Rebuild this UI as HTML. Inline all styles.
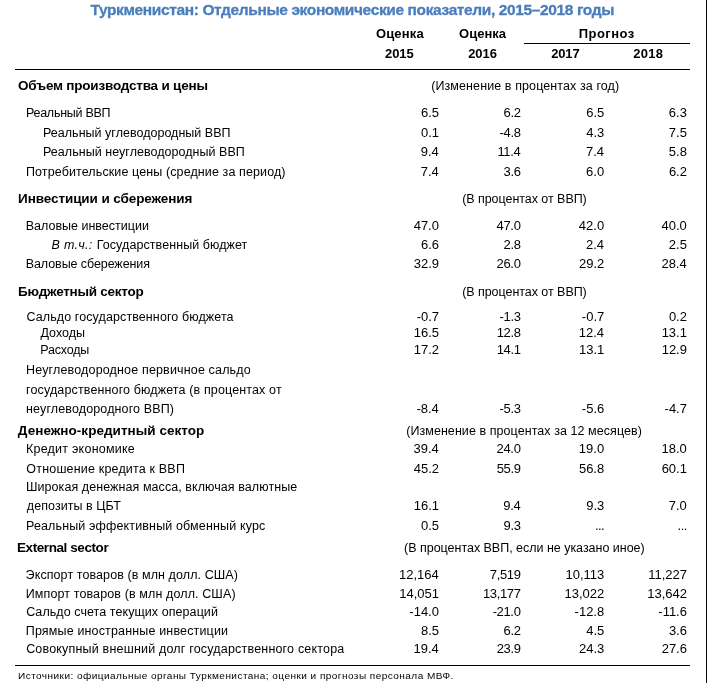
<!DOCTYPE html>
<html lang="ru"><head><meta charset="utf-8"><title>Туркменистан: Отдельные экономические показатели</title>
<style>
html,body{margin:0;padding:0;background:#fff;}
body{width:709px;height:683px;position:relative;overflow:hidden;font-family:"Liberation Sans",sans-serif;font-size:13px;color:#000;}
.t{position:absolute;white-space:nowrap;line-height:20px;height:20px;}
.b{font-weight:bold;}
.n{text-align:right;width:90px;}
.ln{position:absolute;background:#000;}
#wrap{position:absolute;left:0;top:0;width:709px;height:683px;will-change:transform;}
</style></head><body>
<div id="wrap">
<div class="ln" style="left:524px;top:43px;width:166px;height:1px;"></div>
<div class="ln" style="left:15px;top:69px;width:675px;height:1px;"></div>
<div class="ln" style="left:706px;top:0;width:1px;height:683px;"></div>
<div class="ln" style="left:15px;top:665px;width:675px;height:1px;"></div>
<div class="t b" style="left:90.49px;top:0.0px;font-size:15.5px;letter-spacing:-0.376px;color:#4a7dbc;-webkit-text-stroke:0.3px #4a7dbc;">Туркменистан: Отдельные экономические показатели, 2015–2018 годы</div>
<div class="t b" style="left:375.92px;top:23.5px;font-size:13px;letter-spacing:0.181px;">Оценка</div>
<div class="t b" style="left:459.12px;top:23.5px;font-size:13px;letter-spacing:-0.019px;">Оценка</div>
<div class="t b" style="left:578.70px;top:23.5px;font-size:13px;letter-spacing:0.483px;">Прогноз</div>
<div class="t b" style="left:384.94px;top:44.0px;font-size:13px;letter-spacing:-0.027px;">2015</div>
<div class="t b" style="left:468.14px;top:44.0px;font-size:13px;letter-spacing:0.005px;">2016</div>
<div class="t b" style="left:551.14px;top:44.0px;font-size:13px;letter-spacing:-0.112px;">2017</div>
<div class="t b" style="left:633.34px;top:44.0px;font-size:13px;letter-spacing:0.248px;">2018</div>
<div class="t b" style="left:18.00px;top:76.0px;font-size:13.5px;letter-spacing:-0.205px;">Объем производства и цены</div>
<div class="t" style="left:431.17px;top:76.0px;font-size:12.5px;letter-spacing:0.100px;">(Изменение в процентах за год)</div>
<div class="t b" style="left:18.10px;top:188.5px;font-size:13.5px;letter-spacing:-0.097px;">Инвестиции и сбережения</div>
<div class="t" style="left:462.17px;top:188.5px;font-size:12.5px;letter-spacing:-0.045px;">(В процентах от ВВП)</div>
<div class="t b" style="left:18.10px;top:282.0px;font-size:13.5px;letter-spacing:-0.246px;">Бюджетный сектор</div>
<div class="t" style="left:462.17px;top:282.0px;font-size:12.5px;letter-spacing:-0.045px;">(В процентах от ВВП)</div>
<div class="t b" style="left:17.85px;top:420.5px;font-size:13.5px;letter-spacing:0.032px;">Денежно-кредитный сектор</div>
<div class="t" style="left:406.17px;top:420.5px;font-size:12.5px;letter-spacing:0.065px;">(Изменение в процентах за 12 месяцев)</div>
<div class="t b" style="left:17.00px;top:538.0px;font-size:13.5px;letter-spacing:-0.421px;">External sector</div>
<div class="t" style="left:404.07px;top:538.0px;font-size:12.5px;letter-spacing:-0.022px;">(В процентах ВВП, если не указано иное)</div>
<div class="t" style="left:25.96px;top:103.0px;font-size:12.5px;letter-spacing:-0.259px;">Реальный ВВП</div>
<div class="t" style="left:43.06px;top:123.0px;font-size:12.5px;letter-spacing:0.021px;">Реальный углеводородный ВВП</div>
<div class="t" style="left:43.06px;top:142.0px;font-size:12.5px;letter-spacing:0.039px;">Реальный неуглеводородный ВВП</div>
<div class="t" style="left:25.98px;top:162.0px;font-size:12.5px;letter-spacing:0.110px;">Потребительские цены (средние за период)</div>
<div class="t" style="left:25.76px;top:216.0px;font-size:12.5px;letter-spacing:-0.001px;">Валовые инвестиции</div>
<div class="t" style="left:51.50px;top:235.0px;font-size:12.5px;letter-spacing:0.289px;"><i>В т.ч.:</i></div>
<div class="t" style="left:96.76px;top:235.0px;font-size:12.5px;letter-spacing:0.075px;">Государственный бюджет</div>
<div class="t" style="left:25.76px;top:254.0px;font-size:12.5px;letter-spacing:-0.085px;">Валовые сбережения</div>
<div class="t" style="left:26.43px;top:307.0px;font-size:12.5px;letter-spacing:0.103px;">Сальдо государственного бюджета</div>
<div class="t" style="left:40.49px;top:323.0px;font-size:12.5px;letter-spacing:0.020px;">Доходы</div>
<div class="t" style="left:40.36px;top:340.0px;font-size:12.5px;letter-spacing:-0.206px;">Расходы</div>
<div class="t" style="left:26.06px;top:360.0px;font-size:12.5px;letter-spacing:0.157px;">Неуглеводородное первичное сальдо</div>
<div class="t" style="left:26.09px;top:380.0px;font-size:12.5px;letter-spacing:0.133px;">государственного бюджета (в процентах от</div>
<div class="t" style="left:26.10px;top:399.0px;font-size:12.5px;letter-spacing:0.126px;">неуглеводородного ВВП)</div>
<div class="t" style="left:25.96px;top:439.0px;font-size:12.5px;letter-spacing:0.237px;">Кредит экономике</div>
<div class="t" style="left:26.36px;top:459.0px;font-size:12.5px;letter-spacing:0.179px;">Отношение кредита к ВВП</div>
<div class="t" style="left:25.96px;top:477.0px;font-size:12.5px;letter-spacing:0.072px;">Широкая денежная масса, включая валютные</div>
<div class="t" style="left:26.85px;top:496.0px;font-size:12.5px;letter-spacing:0.057px;">депозиты в ЦБТ</div>
<div class="t" style="left:25.96px;top:516.0px;font-size:12.5px;letter-spacing:0.143px;">Реальный эффективный обменный курс</div>
<div class="t" style="left:25.62px;top:565.0px;font-size:12.5px;letter-spacing:0.088px;">Экспорт товаров (в млн долл. США)</div>
<div class="t" style="left:25.76px;top:584.0px;font-size:12.5px;letter-spacing:0.116px;">Импорт товаров (в млн долл. США)</div>
<div class="t" style="left:26.13px;top:602.0px;font-size:12.5px;letter-spacing:0.067px;">Сальдо счета текущих операций</div>
<div class="t" style="left:25.78px;top:621.0px;font-size:12.5px;letter-spacing:0.154px;">Прямые иностранные инвестиции</div>
<div class="t" style="left:26.13px;top:639.0px;font-size:12.5px;letter-spacing:0.190px;">Совокупный внешний долг государственного сектора</div>
<div class="t" style="left:17.70px;top:666.0px;font-size:9.3px;letter-spacing:0.412px;transform:scaleX(1.08);transform-origin:0 50%;">Источники: официальные органы Туркменистана; оценки и прогнозы персонала МВФ.</div>
<div class="t n" style="left:349.05px;top:103.0px;">6.5</div>
<div class="t n" style="left:430.64px;top:103.0px;letter-spacing:-0.35px;">6.2</div>
<div class="t n" style="left:514.25px;top:103.0px;">6.5</div>
<div class="t n" style="left:596.95px;top:103.0px;">6.3</div>
<div class="t n" style="left:349.06px;top:123.0px;">0.1</div>
<div class="t n" style="left:430.59px;top:123.0px;letter-spacing:-0.35px;">-4.8</div>
<div class="t n" style="left:514.25px;top:123.0px;">4.3</div>
<div class="t n" style="left:596.95px;top:123.0px;">7.5</div>
<div class="t n" style="left:348.82px;top:142.0px;">9.4</div>
<div class="t n" style="left:430.38px;top:142.0px;letter-spacing:-0.35px;">11.4</div>
<div class="t n" style="left:514.02px;top:142.0px;">7.4</div>
<div class="t n" style="left:596.93px;top:142.0px;">5.8</div>
<div class="t n" style="left:348.82px;top:162.0px;">7.4</div>
<div class="t n" style="left:430.64px;top:162.0px;letter-spacing:-0.35px;">3.6</div>
<div class="t n" style="left:514.17px;top:162.0px;">6.0</div>
<div class="t n" style="left:596.97px;top:162.0px;">6.2</div>
<div class="t n" style="left:348.97px;top:216.0px;">47.0</div>
<div class="t n" style="left:430.53px;top:216.0px;letter-spacing:-0.35px;">47.0</div>
<div class="t n" style="left:514.17px;top:216.0px;">42.0</div>
<div class="t n" style="left:596.87px;top:216.0px;">40.0</div>
<div class="t n" style="left:349.08px;top:235.0px;">6.6</div>
<div class="t n" style="left:430.59px;top:235.0px;letter-spacing:-0.35px;">2.8</div>
<div class="t n" style="left:514.02px;top:235.0px;">2.4</div>
<div class="t n" style="left:596.95px;top:235.0px;">2.5</div>
<div class="t n" style="left:349.08px;top:254.0px;">32.9</div>
<div class="t n" style="left:430.53px;top:254.0px;letter-spacing:-0.35px;">26.0</div>
<div class="t n" style="left:514.27px;top:254.0px;">29.2</div>
<div class="t n" style="left:596.72px;top:254.0px;">28.4</div>
<div class="t n" style="left:349.07px;top:307.0px;">-0.7</div>
<div class="t n" style="left:430.61px;top:307.0px;letter-spacing:-0.35px;">-1.3</div>
<div class="t n" style="left:514.27px;top:307.0px;">-0.7</div>
<div class="t n" style="left:596.97px;top:307.0px;">0.2</div>
<div class="t n" style="left:349.05px;top:323.0px;">16.5</div>
<div class="t n" style="left:430.59px;top:323.0px;letter-spacing:-0.35px;">12.8</div>
<div class="t n" style="left:514.02px;top:323.0px;">12.4</div>
<div class="t n" style="left:596.96px;top:323.0px;">13.1</div>
<div class="t n" style="left:349.07px;top:340.0px;">17.2</div>
<div class="t n" style="left:430.62px;top:340.0px;letter-spacing:-0.35px;">14.1</div>
<div class="t n" style="left:514.26px;top:340.0px;">13.1</div>
<div class="t n" style="left:596.98px;top:340.0px;">12.9</div>
<div class="t n" style="left:348.82px;top:399.0px;">-8.4</div>
<div class="t n" style="left:430.61px;top:399.0px;letter-spacing:-0.35px;">-5.3</div>
<div class="t n" style="left:514.28px;top:399.0px;">-5.6</div>
<div class="t n" style="left:596.97px;top:399.0px;">-4.7</div>
<div class="t n" style="left:348.82px;top:439.0px;">39.4</div>
<div class="t n" style="left:430.53px;top:439.0px;letter-spacing:-0.35px;">24.0</div>
<div class="t n" style="left:514.17px;top:439.0px;">19.0</div>
<div class="t n" style="left:596.87px;top:439.0px;">18.0</div>
<div class="t n" style="left:349.07px;top:459.0px;">45.2</div>
<div class="t n" style="left:430.64px;top:459.0px;letter-spacing:-0.35px;">55.9</div>
<div class="t n" style="left:514.23px;top:459.0px;">56.8</div>
<div class="t n" style="left:596.96px;top:459.0px;">60.1</div>
<div class="t n" style="left:349.06px;top:496.0px;">16.1</div>
<div class="t n" style="left:430.38px;top:496.0px;letter-spacing:-0.35px;">9.4</div>
<div class="t n" style="left:514.25px;top:496.0px;">9.3</div>
<div class="t n" style="left:596.87px;top:496.0px;">7.0</div>
<div class="t n" style="left:349.05px;top:516.0px;">0.5</div>
<div class="t n" style="left:430.61px;top:516.0px;letter-spacing:-0.35px;">9.3</div>
<div class="t n" style="left:514.08px;top:516.0px;letter-spacing:-0.55px;">...</div>
<div class="t n" style="left:596.78px;top:516.0px;letter-spacing:-0.55px;">...</div>
<div class="t n" style="left:348.82px;top:565.0px;">12,164</div>
<div class="t n" style="left:430.64px;top:565.0px;letter-spacing:-0.35px;">7,519</div>
<div class="t n" style="left:514.25px;top:565.0px;">10,113</div>
<div class="t n" style="left:596.97px;top:565.0px;">11,227</div>
<div class="t n" style="left:349.06px;top:584.0px;">14,051</div>
<div class="t n" style="left:430.64px;top:584.0px;letter-spacing:-0.35px;">13,177</div>
<div class="t n" style="left:514.27px;top:584.0px;">13,022</div>
<div class="t n" style="left:596.97px;top:584.0px;">13,642</div>
<div class="t n" style="left:348.97px;top:602.0px;">-14.0</div>
<div class="t n" style="left:430.53px;top:602.0px;letter-spacing:-0.35px;">-21.0</div>
<div class="t n" style="left:514.23px;top:602.0px;">-12.8</div>
<div class="t n" style="left:596.98px;top:602.0px;">-11.6</div>
<div class="t n" style="left:349.05px;top:621.0px;">8.5</div>
<div class="t n" style="left:430.64px;top:621.0px;letter-spacing:-0.35px;">6.2</div>
<div class="t n" style="left:514.25px;top:621.0px;">4.5</div>
<div class="t n" style="left:596.98px;top:621.0px;">3.6</div>
<div class="t n" style="left:348.82px;top:639.0px;">19.4</div>
<div class="t n" style="left:430.64px;top:639.0px;letter-spacing:-0.35px;">23.9</div>
<div class="t n" style="left:514.25px;top:639.0px;">24.3</div>
<div class="t n" style="left:596.98px;top:639.0px;">27.6</div>
</div>
</body></html>
